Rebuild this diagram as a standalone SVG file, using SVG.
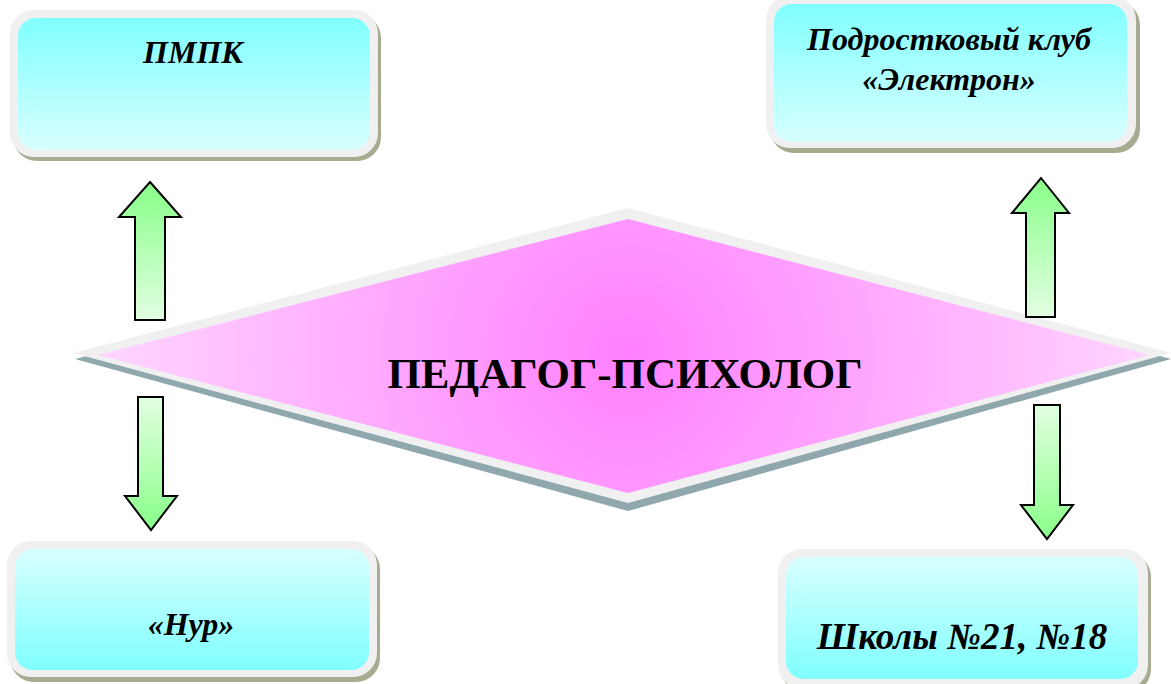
<svg xmlns="http://www.w3.org/2000/svg" width="1171" height="684" viewBox="0 0 1171 684">
<defs>
<linearGradient id="cyanDown" x1="0" y1="0" x2="0" y2="1"><stop offset="0" stop-color="#80ffff"/><stop offset="1" stop-color="#d8ffff"/></linearGradient>
<linearGradient id="cyanUp" x1="0" y1="0" x2="0" y2="1"><stop offset="0" stop-color="#d8ffff"/><stop offset="1" stop-color="#80ffff"/></linearGradient>
<linearGradient id="greenUp" x1="0" y1="0" x2="0" y2="1"><stop offset="0" stop-color="#88ff88"/><stop offset="1" stop-color="#e2ffe2"/></linearGradient>
<linearGradient id="greenDown" x1="0" y1="0" x2="0" y2="1"><stop offset="0" stop-color="#e2ffe2"/><stop offset="1" stop-color="#88ff88"/></linearGradient>
<radialGradient id="pink" gradientUnits="userSpaceOnUse" cx="628" cy="355" r="540"><stop offset="0" stop-color="#ff80ff"/><stop offset="1" stop-color="#ffd8ff"/></radialGradient>
</defs>
<style>
.shadow{fill:#a8ab90}
.frame{fill:#f0f0f0}
.lbl{font-family:"Liberation Serif","Times New Roman",serif;font-weight:bold;font-style:italic;font-size:32px;fill:#000;text-anchor:middle}
.main{font-family:"Liberation Serif","Times New Roman",serif;font-weight:bold;font-size:43px;fill:#000;text-anchor:middle}
.arrow{stroke:#000;stroke-width:2;stroke-linejoin:miter}
</style>

<g id="center">
<polygon fill="#8fa8ae" points="75,359 628,214 1171,359 628,511"/>
<polygon class="frame" points="73,353 628,208 1171,353 628,503"/>
<polygon fill="url(#pink)" points="98,355 628,219 1150,355 628,493"/>
<text class="main" x="625" y="388">ПЕДАГОГ-ПСИХОЛОГ</text>
</g>

<g id="connectors">
<polygon class="arrow" fill="url(#greenUp)" points="150,182 181,217 165,217 165,320 135,320 135,217 119,217"/>
<polygon class="arrow" fill="url(#greenDown)" points="138,397 163,397 163,496 177,496 151,530 125,496 138,496"/>
<polygon class="arrow" fill="url(#greenUp)" points="1041,178 1069,213 1055,213 1055,317 1026,317 1026,213 1012,213"/>
<polygon class="arrow" fill="url(#greenDown)" points="1034,405 1060,405 1060,505 1073,505 1047,539 1021,505 1034,505"/>
</g>

<g id="pmpk">
<rect class="shadow" x="13" y="14" width="368" height="147" rx="24"/>
<rect class="frame" x="10" y="10" width="368" height="147" rx="24"/>
<rect fill="url(#cyanDown)" x="18" y="18" width="352" height="132" rx="18"/>
<text class="lbl" x="193" y="63">ПМПК</text>
</g>

<g id="club">
<rect class="shadow" x="770" y="1" width="370" height="152" rx="24"/>
<rect class="frame" x="766" y="-4" width="370" height="152" rx="24"/>
<rect fill="url(#cyanDown)" x="774" y="4" width="353" height="138" rx="18"/>
<text class="lbl" x="949" y="50">Подростковый клуб</text>
<text class="lbl" x="949" y="90">«Электрон»</text>
</g>

<g id="nur">
<rect class="shadow" x="10" y="545" width="370" height="137" rx="24"/>
<rect class="frame" x="7" y="541" width="370" height="136" rx="24"/>
<rect fill="url(#cyanUp)" x="15" y="549" width="354" height="121" rx="18"/>
<text class="lbl" x="191" y="635">«Нур»</text>
</g>

<g id="schools">
<rect class="shadow" x="781" y="553" width="370" height="140" rx="24"/>
<rect class="frame" x="778" y="549" width="370" height="140" rx="24"/>
<rect fill="url(#cyanUp)" x="786" y="557" width="352" height="122" rx="18"/>
<text class="lbl" x="962" y="649" style="font-size:37px">Школы №21, №18</text>
</g>
</svg>
